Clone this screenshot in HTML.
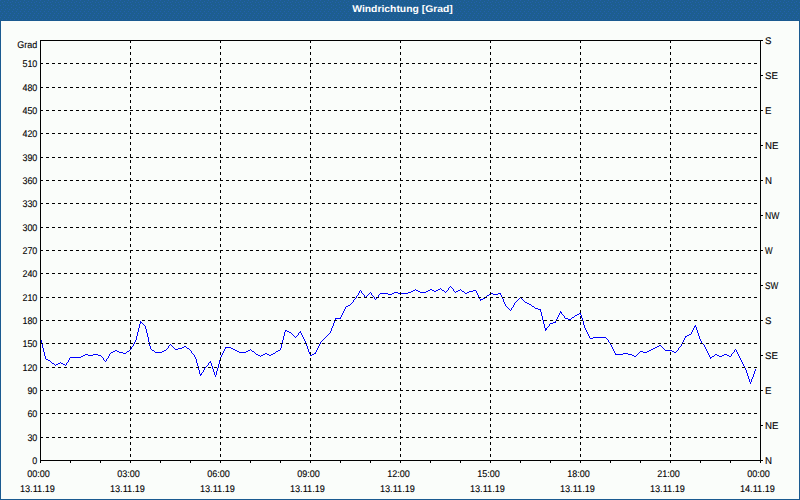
<!DOCTYPE html>
<html><head><meta charset="utf-8"><title>Windrichtung</title>
<style>html,body{margin:0;padding:0;background:#fafdfa;width:800px;height:500px;overflow:hidden}svg{display:block}</style>
</head><body>
<svg width="800" height="500" viewBox="0 0 800 500">
<rect x="0" y="0" width="800" height="500" fill="#fafdfa"/>
<defs><pattern id="dith" x="0" y="0" width="8" height="20" patternUnits="userSpaceOnUse"><rect width="8" height="20" fill="#1d5e90"/><path d="M0 0h1v1h-1zM4 1h1v1h-1zM2 2h1v1h-1zM7 2h1v1h-1zM3 4h1v1h-1zM0 5h1v1h-1zM5 5h1v1h-1zM3 7h1v1h-1zM7 8h1v1h-1zM1 9h1v1h-1zM5 9h1v1h-1zM0 11h1v1h-1zM4 11h1v1h-1zM2 13h1v1h-1zM6 13h1v1h-1zM1 15h1v1h-1zM5 15h1v1h-1zM0 17h1v1h-1zM4 17h1v1h-1zM2 19h1v1h-1zM6 19h1v1h-1z" fill="#2360ad"/></pattern></defs>
<rect x="0" y="0" width="800" height="20" fill="url(#dith)"/>
<rect x="0" y="20" width="800" height="1" fill="#1a5a90"/>
<rect x="0" y="21" width="1" height="480" fill="#1a5a90"/>
<rect x="799" y="21" width="1" height="480" fill="#1a5a90"/>
<rect x="0" y="499" width="800" height="1" fill="#1a5a90"/>
<text x="402.5" y="12" text-anchor="middle" font-family='"Liberation Sans", sans-serif' font-weight="bold" font-size="9.8" fill="#fff" text-rendering="geometricPrecision" textLength="100.5" lengthAdjust="spacingAndGlyphs">Windrichtung [Grad]</text>
<path d="M450 286h1v1h-1zM449 287h1v1h-1zM451 287h1v1h-1zM440 288h1v1h-1zM448 288h1v1h-1zM452 288h1v1h-1zM415 289h1v1h-1zM430 289h2v1h-2zM438 289h2v1h-2zM441 289h1v1h-1zM448 289h1v1h-1zM453 289h1v1h-1zM460 289h1v1h-1zM360 290h1v1h-1zM413 290h2v1h-2zM416 290h2v1h-2zM428 290h2v1h-2zM432 290h2v1h-2zM436 290h2v1h-2zM442 290h2v1h-2zM447 290h1v1h-1zM453 290h1v1h-1zM458 290h2v1h-2zM461 290h1v1h-1zM473 290h3v1h-3zM359 291h1v1h-1zM361 291h1v1h-1zM411 291h2v1h-2zM418 291h2v1h-2zM426 291h2v1h-2zM434 291h2v1h-2zM444 291h1v1h-1zM446 291h1v1h-1zM454 291h1v1h-1zM456 291h2v1h-2zM462 291h2v1h-2zM469 291h4v1h-4zM476 291h1v1h-1zM359 292h1v1h-1zM361 292h1v1h-1zM370 292h1v1h-1zM394 292h4v1h-4zM408 292h3v1h-3zM420 292h6v1h-6zM445 292h1v1h-1zM455 292h1v1h-1zM464 292h1v1h-1zM467 292h2v1h-2zM476 292h1v1h-1zM358 293h1v1h-1zM362 293h1v1h-1zM369 293h1v1h-1zM371 293h1v1h-1zM380 293h8v1h-8zM392 293h2v1h-2zM398 293h10v1h-10zM465 293h2v1h-2zM477 293h1v1h-1zM490 293h3v1h-3zM498 293h3v1h-3zM358 294h1v1h-1zM363 294h1v1h-1zM368 294h1v1h-1zM371 294h1v1h-1zM379 294h1v1h-1zM388 294h4v1h-4zM477 294h1v1h-1zM489 294h1v1h-1zM493 294h5v1h-5zM500 294h1v1h-1zM357 295h1v1h-1zM364 295h1v1h-1zM367 295h1v1h-1zM372 295h1v1h-1zM378 295h1v1h-1zM478 295h1v1h-1zM487 295h2v1h-2zM501 295h1v1h-1zM356 296h1v1h-1zM364 296h1v1h-1zM366 296h1v1h-1zM373 296h1v1h-1zM378 296h1v1h-1zM478 296h1v1h-1zM486 296h1v1h-1zM501 296h1v1h-1zM356 297h1v1h-1zM365 297h1v1h-1zM374 297h1v1h-1zM377 297h1v1h-1zM479 297h1v1h-1zM485 297h1v1h-1zM502 297h1v1h-1zM520 297h1v1h-1zM355 298h1v1h-1zM374 298h1v1h-1zM376 298h1v1h-1zM479 298h1v1h-1zM483 298h2v1h-2zM502 298h1v1h-1zM519 298h1v1h-1zM521 298h1v1h-1zM354 299h1v1h-1zM375 299h1v1h-1zM480 299h3v1h-3zM503 299h1v1h-1zM518 299h1v1h-1zM522 299h1v1h-1zM353 300h1v1h-1zM480 300h1v1h-1zM503 300h1v1h-1zM517 300h1v1h-1zM523 300h1v1h-1zM353 301h1v1h-1zM503 301h1v1h-1zM516 301h1v1h-1zM524 301h1v1h-1zM352 302h1v1h-1zM504 302h1v1h-1zM515 302h1v1h-1zM525 302h2v1h-2zM351 303h1v1h-1zM504 303h1v1h-1zM514 303h1v1h-1zM527 303h2v1h-2zM350 304h1v1h-1zM505 304h1v1h-1zM514 304h1v1h-1zM529 304h2v1h-2zM348 305h2v1h-2zM505 305h1v1h-1zM513 305h1v1h-1zM531 305h1v1h-1zM346 306h2v1h-2zM506 306h1v1h-1zM513 306h1v1h-1zM532 306h2v1h-2zM345 307h1v1h-1zM507 307h1v1h-1zM512 307h1v1h-1zM534 307h1v1h-1zM345 308h1v1h-1zM508 308h1v1h-1zM511 308h1v1h-1zM535 308h3v1h-3zM344 309h1v1h-1zM509 309h1v1h-1zM511 309h1v1h-1zM538 309h3v1h-3zM344 310h1v1h-1zM510 310h1v1h-1zM540 310h1v1h-1zM343 311h1v1h-1zM540 311h1v1h-1zM560 311h1v1h-1zM343 312h1v1h-1zM541 312h1v1h-1zM560 312h2v1h-2zM342 313h1v1h-1zM541 313h1v1h-1zM559 313h1v1h-1zM561 313h1v1h-1zM579 313h2v1h-2zM342 314h1v1h-1zM541 314h1v1h-1zM559 314h1v1h-1zM562 314h1v1h-1zM577 314h2v1h-2zM580 314h1v1h-1zM341 315h1v1h-1zM541 315h1v1h-1zM558 315h1v1h-1zM563 315h1v1h-1zM575 315h2v1h-2zM581 315h1v1h-1zM341 316h1v1h-1zM542 316h1v1h-1zM558 316h1v1h-1zM564 316h1v1h-1zM574 316h1v1h-1zM581 316h1v1h-1zM340 317h1v1h-1zM542 317h1v1h-1zM557 317h1v1h-1zM564 317h1v1h-1zM572 317h2v1h-2zM581 317h1v1h-1zM335 318h6v1h-6zM542 318h1v1h-1zM557 318h1v1h-1zM565 318h3v1h-3zM571 318h1v1h-1zM582 318h1v1h-1zM335 319h1v1h-1zM542 319h1v1h-1zM556 319h1v1h-1zM568 319h3v1h-3zM582 319h1v1h-1zM334 320h1v1h-1zM543 320h1v1h-1zM556 320h1v1h-1zM582 320h1v1h-1zM140 321h1v1h-1zM334 321h1v1h-1zM543 321h1v1h-1zM555 321h1v1h-1zM583 321h1v1h-1zM140 322h2v1h-2zM334 322h1v1h-1zM543 322h1v1h-1zM553 322h3v1h-3zM583 322h1v1h-1zM140 323h1v1h-1zM142 323h1v1h-1zM333 323h1v1h-1zM543 323h1v1h-1zM550 323h3v1h-3zM583 323h1v1h-1zM139 324h1v1h-1zM143 324h1v1h-1zM333 324h1v1h-1zM544 324h1v1h-1zM549 324h1v1h-1zM583 324h1v1h-1zM139 325h1v1h-1zM144 325h1v1h-1zM333 325h1v1h-1zM544 325h1v1h-1zM549 325h1v1h-1zM584 325h1v1h-1zM695 325h1v1h-1zM139 326h1v1h-1zM145 326h1v1h-1zM332 326h1v1h-1zM544 326h1v1h-1zM548 326h1v1h-1zM584 326h1v1h-1zM694 326h2v1h-2zM139 327h1v1h-1zM145 327h1v1h-1zM332 327h1v1h-1zM544 327h1v1h-1zM547 327h1v1h-1zM584 327h1v1h-1zM694 327h1v1h-1zM696 327h1v1h-1zM138 328h1v1h-1zM145 328h1v1h-1zM331 328h1v1h-1zM545 328h2v1h-2zM585 328h1v1h-1zM693 328h1v1h-1zM696 328h1v1h-1zM138 329h1v1h-1zM146 329h1v1h-1zM331 329h1v1h-1zM545 329h2v1h-2zM585 329h1v1h-1zM693 329h1v1h-1zM696 329h1v1h-1zM138 330h1v1h-1zM146 330h1v1h-1zM285 330h2v1h-2zM331 330h1v1h-1zM545 330h1v1h-1zM586 330h1v1h-1zM692 330h1v1h-1zM697 330h1v1h-1zM138 331h1v1h-1zM146 331h1v1h-1zM285 331h1v1h-1zM287 331h2v1h-2zM300 331h1v1h-1zM330 331h1v1h-1zM586 331h1v1h-1zM692 331h1v1h-1zM697 331h1v1h-1zM137 332h1v1h-1zM146 332h1v1h-1zM284 332h1v1h-1zM289 332h2v1h-2zM299 332h2v1h-2zM330 332h1v1h-1zM587 332h1v1h-1zM691 332h1v1h-1zM697 332h1v1h-1zM137 333h1v1h-1zM147 333h1v1h-1zM284 333h1v1h-1zM291 333h1v1h-1zM298 333h1v1h-1zM301 333h1v1h-1zM329 333h1v1h-1zM587 333h1v1h-1zM691 333h1v1h-1zM698 333h1v1h-1zM137 334h1v1h-1zM147 334h1v1h-1zM284 334h1v1h-1zM292 334h1v1h-1zM298 334h1v1h-1zM301 334h1v1h-1zM328 334h1v1h-1zM588 334h1v1h-1zM689 334h2v1h-2zM698 334h1v1h-1zM137 335h1v1h-1zM147 335h1v1h-1zM284 335h1v1h-1zM293 335h1v1h-1zM297 335h1v1h-1zM302 335h1v1h-1zM327 335h1v1h-1zM588 335h1v1h-1zM687 335h2v1h-2zM698 335h1v1h-1zM136 336h1v1h-1zM147 336h1v1h-1zM283 336h1v1h-1zM294 336h1v1h-1zM296 336h1v1h-1zM302 336h1v1h-1zM326 336h1v1h-1zM589 336h1v1h-1zM685 336h2v1h-2zM699 336h1v1h-1zM40 337h1v1h-1zM136 337h1v1h-1zM148 337h1v1h-1zM283 337h1v1h-1zM295 337h1v1h-1zM303 337h1v1h-1zM325 337h1v1h-1zM589 337h1v1h-1zM593 337h13v1h-13zM685 337h1v1h-1zM699 337h1v1h-1zM40 338h1v1h-1zM136 338h1v1h-1zM148 338h1v1h-1zM283 338h1v1h-1zM303 338h1v1h-1zM324 338h1v1h-1zM590 338h3v1h-3zM606 338h1v1h-1zM684 338h1v1h-1zM699 338h1v1h-1zM40 339h1v1h-1zM136 339h1v1h-1zM148 339h1v1h-1zM283 339h1v1h-1zM304 339h1v1h-1zM323 339h1v1h-1zM607 339h1v1h-1zM684 339h1v1h-1zM700 339h1v1h-1zM41 340h1v1h-1zM135 340h1v1h-1zM148 340h1v1h-1zM282 340h1v1h-1zM304 340h1v1h-1zM322 340h1v1h-1zM608 340h1v1h-1zM683 340h1v1h-1zM700 340h1v1h-1zM41 341h1v1h-1zM135 341h1v1h-1zM148 341h1v1h-1zM282 341h1v1h-1zM305 341h1v1h-1zM321 341h1v1h-1zM608 341h1v1h-1zM683 341h1v1h-1zM701 341h1v1h-1zM41 342h1v1h-1zM134 342h1v1h-1zM149 342h1v1h-1zM282 342h1v1h-1zM305 342h1v1h-1zM320 342h1v1h-1zM609 342h1v1h-1zM682 342h1v1h-1zM701 342h1v1h-1zM41 343h1v1h-1zM134 343h1v1h-1zM149 343h1v1h-1zM282 343h1v1h-1zM305 343h1v1h-1zM320 343h1v1h-1zM610 343h1v1h-1zM682 343h1v1h-1zM702 343h1v1h-1zM42 344h1v1h-1zM133 344h1v1h-1zM149 344h1v1h-1zM170 344h1v1h-1zM281 344h1v1h-1zM306 344h1v1h-1zM319 344h1v1h-1zM610 344h1v1h-1zM681 344h1v1h-1zM703 344h1v1h-1zM42 345h1v1h-1zM133 345h1v1h-1zM149 345h1v1h-1zM169 345h1v1h-1zM171 345h1v1h-1zM281 345h1v1h-1zM306 345h1v1h-1zM319 345h1v1h-1zM611 345h1v1h-1zM659 345h2v1h-2zM681 345h1v1h-1zM704 345h1v1h-1zM42 346h1v1h-1zM132 346h1v1h-1zM150 346h1v1h-1zM168 346h1v1h-1zM172 346h1v1h-1zM184 346h2v1h-2zM281 346h1v1h-1zM307 346h1v1h-1zM318 346h1v1h-1zM611 346h1v1h-1zM657 346h2v1h-2zM661 346h1v1h-1zM680 346h1v1h-1zM704 346h1v1h-1zM42 347h1v1h-1zM131 347h1v1h-1zM150 347h1v1h-1zM168 347h1v1h-1zM173 347h1v1h-1zM182 347h2v1h-2zM186 347h1v1h-1zM225 347h6v1h-6zM281 347h1v1h-1zM307 347h1v1h-1zM318 347h1v1h-1zM612 347h1v1h-1zM655 347h2v1h-2zM662 347h1v1h-1zM679 347h1v1h-1zM705 347h1v1h-1zM43 348h1v1h-1zM131 348h1v1h-1zM150 348h1v1h-1zM167 348h1v1h-1zM174 348h1v1h-1zM178 348h4v1h-4zM187 348h2v1h-2zM225 348h1v1h-1zM231 348h2v1h-2zM280 348h1v1h-1zM307 348h1v1h-1zM317 348h1v1h-1zM612 348h1v1h-1zM653 348h2v1h-2zM663 348h1v1h-1zM678 348h1v1h-1zM705 348h1v1h-1zM43 349h1v1h-1zM130 349h1v1h-1zM151 349h1v1h-1zM166 349h1v1h-1zM175 349h3v1h-3zM189 349h1v1h-1zM224 349h1v1h-1zM233 349h2v1h-2zM250 349h1v1h-1zM280 349h1v1h-1zM308 349h1v1h-1zM317 349h1v1h-1zM613 349h1v1h-1zM651 349h2v1h-2zM664 349h1v1h-1zM678 349h1v1h-1zM706 349h1v1h-1zM735 349h1v1h-1zM43 350h1v1h-1zM115 350h2v1h-2zM129 350h1v1h-1zM152 350h2v1h-2zM164 350h2v1h-2zM190 350h1v1h-1zM224 350h1v1h-1zM235 350h2v1h-2zM248 350h2v1h-2zM251 350h1v1h-1zM278 350h2v1h-2zM308 350h1v1h-1zM316 350h1v1h-1zM613 350h1v1h-1zM649 350h2v1h-2zM665 350h7v1h-7zM677 350h1v1h-1zM706 350h1v1h-1zM734 350h1v1h-1zM736 350h1v1h-1zM43 351h1v1h-1zM113 351h2v1h-2zM117 351h2v1h-2zM127 351h2v1h-2zM154 351h1v1h-1zM162 351h2v1h-2zM191 351h1v1h-1zM223 351h1v1h-1zM237 351h2v1h-2zM246 351h2v1h-2zM252 351h2v1h-2zM276 351h2v1h-2zM308 351h1v1h-1zM316 351h1v1h-1zM614 351h1v1h-1zM640 351h3v1h-3zM647 351h2v1h-2zM672 351h2v1h-2zM676 351h1v1h-1zM707 351h1v1h-1zM734 351h1v1h-1zM736 351h1v1h-1zM44 352h1v1h-1zM111 352h2v1h-2zM119 352h4v1h-4zM126 352h1v1h-1zM155 352h7v1h-7zM191 352h1v1h-1zM223 352h1v1h-1zM239 352h7v1h-7zM254 352h1v1h-1zM275 352h1v1h-1zM309 352h1v1h-1zM315 352h1v1h-1zM614 352h1v1h-1zM639 352h1v1h-1zM643 352h4v1h-4zM674 352h2v1h-2zM707 352h1v1h-1zM733 352h1v1h-1zM737 352h1v1h-1zM44 353h1v1h-1zM110 353h1v1h-1zM123 353h3v1h-3zM192 353h1v1h-1zM222 353h1v1h-1zM255 353h1v1h-1zM265 353h2v1h-2zM273 353h2v1h-2zM309 353h1v1h-1zM314 353h2v1h-2zM615 353h1v1h-1zM623 353h5v1h-5zM638 353h1v1h-1zM708 353h1v1h-1zM732 353h1v1h-1zM737 353h1v1h-1zM44 354h1v1h-1zM85 354h3v1h-3zM93 354h5v1h-5zM109 354h1v1h-1zM193 354h1v1h-1zM222 354h1v1h-1zM256 354h2v1h-2zM263 354h2v1h-2zM267 354h2v1h-2zM271 354h2v1h-2zM310 354h1v1h-1zM312 354h2v1h-2zM615 354h8v1h-8zM628 354h4v1h-4zM637 354h1v1h-1zM708 354h1v1h-1zM715 354h2v1h-2zM724 354h3v1h-3zM731 354h1v1h-1zM738 354h1v1h-1zM44 355h1v1h-1zM83 355h2v1h-2zM88 355h5v1h-5zM98 355h3v1h-3zM109 355h1v1h-1zM194 355h1v1h-1zM221 355h1v1h-1zM258 355h2v1h-2zM261 355h2v1h-2zM269 355h2v1h-2zM310 355h2v1h-2zM632 355h2v1h-2zM636 355h1v1h-1zM709 355h1v1h-1zM714 355h1v1h-1zM717 355h2v1h-2zM722 355h2v1h-2zM727 355h2v1h-2zM731 355h1v1h-1zM738 355h1v1h-1zM45 356h1v1h-1zM81 356h2v1h-2zM101 356h1v1h-1zM108 356h1v1h-1zM194 356h1v1h-1zM221 356h1v1h-1zM260 356h1v1h-1zM634 356h2v1h-2zM709 356h1v1h-1zM712 356h2v1h-2zM719 356h3v1h-3zM729 356h2v1h-2zM739 356h1v1h-1zM45 357h1v1h-1zM70 357h11v1h-11zM102 357h1v1h-1zM108 357h1v1h-1zM195 357h1v1h-1zM220 357h1v1h-1zM710 357h2v1h-2zM739 357h1v1h-1zM45 358h1v1h-1zM69 358h1v1h-1zM103 358h1v1h-1zM107 358h1v1h-1zM195 358h1v1h-1zM220 358h1v1h-1zM710 358h1v1h-1zM740 358h1v1h-1zM46 359h2v1h-2zM69 359h1v1h-1zM103 359h1v1h-1zM106 359h1v1h-1zM196 359h1v1h-1zM220 359h1v1h-1zM740 359h1v1h-1zM48 360h2v1h-2zM68 360h1v1h-1zM104 360h1v1h-1zM106 360h1v1h-1zM196 360h1v1h-1zM219 360h1v1h-1zM741 360h1v1h-1zM50 361h1v1h-1zM68 361h1v1h-1zM105 361h1v1h-1zM196 361h1v1h-1zM210 361h1v1h-1zM219 361h1v1h-1zM741 361h1v1h-1zM51 362h1v1h-1zM60 362h1v1h-1zM67 362h1v1h-1zM196 362h1v1h-1zM209 362h2v1h-2zM219 362h1v1h-1zM742 362h1v1h-1zM52 363h2v1h-2zM58 363h2v1h-2zM61 363h2v1h-2zM66 363h1v1h-1zM197 363h1v1h-1zM208 363h1v1h-1zM211 363h1v1h-1zM219 363h1v1h-1zM742 363h1v1h-1zM54 364h1v1h-1zM56 364h2v1h-2zM63 364h2v1h-2zM66 364h1v1h-1zM197 364h1v1h-1zM208 364h1v1h-1zM211 364h1v1h-1zM218 364h1v1h-1zM743 364h1v1h-1zM55 365h1v1h-1zM65 365h1v1h-1zM197 365h1v1h-1zM207 365h1v1h-1zM211 365h1v1h-1zM218 365h1v1h-1zM743 365h1v1h-1zM198 366h1v1h-1zM206 366h1v1h-1zM212 366h1v1h-1zM218 366h1v1h-1zM744 366h1v1h-1zM198 367h1v1h-1zM205 367h1v1h-1zM212 367h1v1h-1zM218 367h1v1h-1zM744 367h1v1h-1zM198 368h1v1h-1zM204 368h1v1h-1zM212 368h1v1h-1zM217 368h1v1h-1zM745 368h1v1h-1zM198 369h1v1h-1zM204 369h1v1h-1zM213 369h1v1h-1zM217 369h1v1h-1zM745 369h1v1h-1zM755 369h1v1h-1zM199 370h1v1h-1zM203 370h1v1h-1zM213 370h1v1h-1zM217 370h1v1h-1zM746 370h1v1h-1zM755 370h1v1h-1zM199 371h1v1h-1zM203 371h1v1h-1zM213 371h1v1h-1zM216 371h1v1h-1zM746 371h1v1h-1zM754 371h1v1h-1zM199 372h1v1h-1zM202 372h1v1h-1zM214 372h1v1h-1zM216 372h1v1h-1zM746 372h1v1h-1zM754 372h1v1h-1zM199 373h1v1h-1zM201 373h1v1h-1zM214 373h1v1h-1zM216 373h1v1h-1zM747 373h1v1h-1zM754 373h1v1h-1zM200 374h2v1h-2zM214 374h1v1h-1zM216 374h1v1h-1zM747 374h1v1h-1zM753 374h1v1h-1zM200 375h1v1h-1zM215 375h1v1h-1zM747 375h1v1h-1zM753 375h1v1h-1zM215 376h1v1h-1zM748 376h1v1h-1zM753 376h1v1h-1zM748 377h1v1h-1zM752 377h1v1h-1zM748 378h1v1h-1zM752 378h1v1h-1zM749 379h1v1h-1zM751 379h1v1h-1zM749 380h1v1h-1zM751 380h1v1h-1zM749 381h1v1h-1zM751 381h1v1h-1zM750 382h1v1h-1zM750 383h1v1h-1z" fill="#0000ff" shape-rendering="crispEdges"/><g stroke="#000" stroke-width="1" stroke-dasharray="3 3" shape-rendering="crispEdges"><line x1="40" y1="437.5" x2="760" y2="437.5"/><line x1="40" y1="413.5" x2="760" y2="413.5"/><line x1="40" y1="390.5" x2="760" y2="390.5"/><line x1="40" y1="367.5" x2="760" y2="367.5"/><line x1="40" y1="343.5" x2="760" y2="343.5"/><line x1="40" y1="320.5" x2="760" y2="320.5"/><line x1="40" y1="297.5" x2="760" y2="297.5"/><line x1="40" y1="273.5" x2="760" y2="273.5"/><line x1="40" y1="250.5" x2="760" y2="250.5"/><line x1="40" y1="227.5" x2="760" y2="227.5"/><line x1="40" y1="203.5" x2="760" y2="203.5"/><line x1="40" y1="180.5" x2="760" y2="180.5"/><line x1="40" y1="157.5" x2="760" y2="157.5"/><line x1="40" y1="133.5" x2="760" y2="133.5"/><line x1="40" y1="110.5" x2="760" y2="110.5"/><line x1="40" y1="87.5" x2="760" y2="87.5"/><line x1="40" y1="63.5" x2="760" y2="63.5"/><line x1="130.5" y1="40" x2="130.5" y2="460"/><line x1="220.5" y1="40" x2="220.5" y2="460"/><line x1="310.5" y1="40" x2="310.5" y2="460"/><line x1="400.5" y1="40" x2="400.5" y2="460"/><line x1="490.5" y1="40" x2="490.5" y2="460"/><line x1="580.5" y1="40" x2="580.5" y2="460"/><line x1="670.5" y1="40" x2="670.5" y2="460"/></g><g stroke="#000" stroke-width="1" shape-rendering="crispEdges"><line x1="40" y1="40.5" x2="761" y2="40.5"/><line x1="40" y1="460.5" x2="761" y2="460.5"/><line x1="40.5" y1="40" x2="40.5" y2="461"/><line x1="760.5" y1="40" x2="760.5" y2="461"/><line x1="40.5" y1="460" x2="40.5" y2="463"/><line x1="70.5" y1="460" x2="70.5" y2="463"/><line x1="100.5" y1="460" x2="100.5" y2="463"/><line x1="130.5" y1="460" x2="130.5" y2="463"/><line x1="160.5" y1="460" x2="160.5" y2="463"/><line x1="190.5" y1="460" x2="190.5" y2="463"/><line x1="220.5" y1="460" x2="220.5" y2="463"/><line x1="250.5" y1="460" x2="250.5" y2="463"/><line x1="280.5" y1="460" x2="280.5" y2="463"/><line x1="310.5" y1="460" x2="310.5" y2="463"/><line x1="340.5" y1="460" x2="340.5" y2="463"/><line x1="370.5" y1="460" x2="370.5" y2="463"/><line x1="400.5" y1="460" x2="400.5" y2="463"/><line x1="430.5" y1="460" x2="430.5" y2="463"/><line x1="460.5" y1="460" x2="460.5" y2="463"/><line x1="490.5" y1="460" x2="490.5" y2="463"/><line x1="520.5" y1="460" x2="520.5" y2="463"/><line x1="550.5" y1="460" x2="550.5" y2="463"/><line x1="580.5" y1="460" x2="580.5" y2="463"/><line x1="610.5" y1="460" x2="610.5" y2="463"/><line x1="640.5" y1="460" x2="640.5" y2="463"/><line x1="670.5" y1="460" x2="670.5" y2="463"/><line x1="700.5" y1="460" x2="700.5" y2="463"/><line x1="730.5" y1="460" x2="730.5" y2="463"/><line x1="760.5" y1="460" x2="760.5" y2="463"/><line x1="760" y1="460.5" x2="763" y2="460.5"/><line x1="760" y1="425.5" x2="763" y2="425.5"/><line x1="760" y1="390.5" x2="763" y2="390.5"/><line x1="760" y1="355.5" x2="763" y2="355.5"/><line x1="760" y1="320.5" x2="763" y2="320.5"/><line x1="760" y1="285.5" x2="763" y2="285.5"/><line x1="760" y1="250.5" x2="763" y2="250.5"/><line x1="760" y1="215.5" x2="763" y2="215.5"/><line x1="760" y1="180.5" x2="763" y2="180.5"/><line x1="760" y1="145.5" x2="763" y2="145.5"/><line x1="760" y1="110.5" x2="763" y2="110.5"/><line x1="760" y1="75.5" x2="763" y2="75.5"/><line x1="760" y1="40.5" x2="763" y2="40.5"/></g><g font-family='"Liberation Sans", sans-serif' font-size="9.7" fill="#000" stroke="#000" stroke-width="0.1" text-rendering="geometricPrecision"><text transform="translate(37.3,463.6) scale(1,1)" text-anchor="end" textLength="4.95" lengthAdjust="spacingAndGlyphs">0</text><text transform="translate(37.3,440.6) scale(1,1)" text-anchor="end" textLength="9.9" lengthAdjust="spacingAndGlyphs">30</text><text transform="translate(37.3,416.6) scale(1,1)" text-anchor="end" textLength="9.9" lengthAdjust="spacingAndGlyphs">60</text><text transform="translate(37.3,393.6) scale(1,1)" text-anchor="end" textLength="9.9" lengthAdjust="spacingAndGlyphs">90</text><text transform="translate(37.3,370.6) scale(1,1)" text-anchor="end" textLength="14.850000000000001" lengthAdjust="spacingAndGlyphs">120</text><text transform="translate(37.3,346.6) scale(1,1)" text-anchor="end" textLength="14.850000000000001" lengthAdjust="spacingAndGlyphs">150</text><text transform="translate(37.3,323.6) scale(1,1)" text-anchor="end" textLength="14.850000000000001" lengthAdjust="spacingAndGlyphs">180</text><text transform="translate(37.3,300.6) scale(1,1)" text-anchor="end" textLength="14.850000000000001" lengthAdjust="spacingAndGlyphs">210</text><text transform="translate(37.3,276.6) scale(1,1)" text-anchor="end" textLength="14.850000000000001" lengthAdjust="spacingAndGlyphs">240</text><text transform="translate(37.3,253.6) scale(1,1)" text-anchor="end" textLength="14.850000000000001" lengthAdjust="spacingAndGlyphs">270</text><text transform="translate(37.3,230.6) scale(1,1)" text-anchor="end" textLength="14.850000000000001" lengthAdjust="spacingAndGlyphs">300</text><text transform="translate(37.3,206.6) scale(1,1)" text-anchor="end" textLength="14.850000000000001" lengthAdjust="spacingAndGlyphs">330</text><text transform="translate(37.3,183.6) scale(1,1)" text-anchor="end" textLength="14.850000000000001" lengthAdjust="spacingAndGlyphs">360</text><text transform="translate(37.3,160.6) scale(1,1)" text-anchor="end" textLength="14.850000000000001" lengthAdjust="spacingAndGlyphs">390</text><text transform="translate(37.3,136.6) scale(1,1)" text-anchor="end" textLength="14.850000000000001" lengthAdjust="spacingAndGlyphs">420</text><text transform="translate(37.3,113.6) scale(1,1)" text-anchor="end" textLength="14.850000000000001" lengthAdjust="spacingAndGlyphs">450</text><text transform="translate(37.3,90.6) scale(1,1)" text-anchor="end" textLength="14.850000000000001" lengthAdjust="spacingAndGlyphs">480</text><text transform="translate(37.3,66.6) scale(1,1)" text-anchor="end" textLength="14.850000000000001" lengthAdjust="spacingAndGlyphs">510</text><text transform="translate(37.3,47.6) scale(1,1)" text-anchor="end" textLength="20" lengthAdjust="spacingAndGlyphs">Grad</text><text transform="translate(765.1,463.6) scale(1,1)" text-anchor="start">N</text><text transform="translate(765.1,428.6) scale(1,1)" text-anchor="start">NE</text><text transform="translate(765.1,393.6) scale(1,1)" text-anchor="start">E</text><text transform="translate(765.1,358.6) scale(1,1)" text-anchor="start">SE</text><text transform="translate(765.1,323.6) scale(1,1)" text-anchor="start">S</text><text transform="translate(765.1,288.6) scale(1,1)" text-anchor="start" textLength="13.2" lengthAdjust="spacingAndGlyphs">SW</text><text transform="translate(765.1,253.6) scale(1,1)" text-anchor="start" textLength="7.6" lengthAdjust="spacingAndGlyphs">W</text><text transform="translate(765.1,218.6) scale(1,1)" text-anchor="start" textLength="14.3" lengthAdjust="spacingAndGlyphs">NW</text><text transform="translate(765.1,183.6) scale(1,1)" text-anchor="start">N</text><text transform="translate(765.1,148.6) scale(1,1)" text-anchor="start">NE</text><text transform="translate(765.1,113.6) scale(1,1)" text-anchor="start">E</text><text transform="translate(765.1,78.6) scale(1,1)" text-anchor="start">SE</text><text transform="translate(765.1,43.6) scale(1,1)" text-anchor="start">S</text><text transform="translate(38.5,477) scale(1,1)" text-anchor="middle" textLength="22.6" lengthAdjust="spacingAndGlyphs">00:00</text><text transform="translate(37.4,491.6) scale(1,1)" text-anchor="middle" textLength="35" lengthAdjust="spacingAndGlyphs">13.11.19</text><text transform="translate(128.5,477) scale(1,1)" text-anchor="middle" textLength="22.6" lengthAdjust="spacingAndGlyphs">03:00</text><text transform="translate(127.4,491.6) scale(1,1)" text-anchor="middle" textLength="35" lengthAdjust="spacingAndGlyphs">13.11.19</text><text transform="translate(218.5,477) scale(1,1)" text-anchor="middle" textLength="22.6" lengthAdjust="spacingAndGlyphs">06:00</text><text transform="translate(217.4,491.6) scale(1,1)" text-anchor="middle" textLength="35" lengthAdjust="spacingAndGlyphs">13.11.19</text><text transform="translate(308.5,477) scale(1,1)" text-anchor="middle" textLength="22.6" lengthAdjust="spacingAndGlyphs">09:00</text><text transform="translate(307.4,491.6) scale(1,1)" text-anchor="middle" textLength="35" lengthAdjust="spacingAndGlyphs">13.11.19</text><text transform="translate(398.5,477) scale(1,1)" text-anchor="middle" textLength="22.6" lengthAdjust="spacingAndGlyphs">12:00</text><text transform="translate(397.4,491.6) scale(1,1)" text-anchor="middle" textLength="35" lengthAdjust="spacingAndGlyphs">13.11.19</text><text transform="translate(488.5,477) scale(1,1)" text-anchor="middle" textLength="22.6" lengthAdjust="spacingAndGlyphs">15:00</text><text transform="translate(487.4,491.6) scale(1,1)" text-anchor="middle" textLength="35" lengthAdjust="spacingAndGlyphs">13.11.19</text><text transform="translate(578.5,477) scale(1,1)" text-anchor="middle" textLength="22.6" lengthAdjust="spacingAndGlyphs">18:00</text><text transform="translate(577.4,491.6) scale(1,1)" text-anchor="middle" textLength="35" lengthAdjust="spacingAndGlyphs">13.11.19</text><text transform="translate(668.5,477) scale(1,1)" text-anchor="middle" textLength="22.6" lengthAdjust="spacingAndGlyphs">21:00</text><text transform="translate(667.4,491.6) scale(1,1)" text-anchor="middle" textLength="35" lengthAdjust="spacingAndGlyphs">13.11.19</text><text transform="translate(758.5,477) scale(1,1)" text-anchor="middle" textLength="22.6" lengthAdjust="spacingAndGlyphs">00:00</text><text transform="translate(757.4,491.6) scale(1,1)" text-anchor="middle" textLength="35" lengthAdjust="spacingAndGlyphs">14.11.19</text></g>
</svg>
</body></html>
